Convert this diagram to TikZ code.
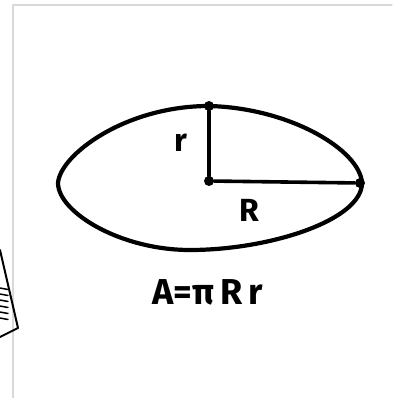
\documentclass[tikz,border=0pt]{standalone}
\usepackage{fontspec}
\setmainfont{Fira Sans}
\usetikzlibrary{positioning,calc}

\begin{document}
\begin{tikzpicture}[x=1pt,y=-1pt,line cap=round,line join=round,
   every node/.style={inner sep=0pt},
   pt/.style={circle,fill=black,minimum size=10pt},
   axis/.style={line width=3.6pt},
   lbl/.style={font=\fontsize{32}{32}\bfseries}]
  \useasboundingbox (0,0) rectangle (392,398);
  % frame of the page
  \draw[gray!30,line width=1.2pt] (13,400) -- (13,5) -- (392,5);
  % corner of the notebook at the left
  \draw[line width=2pt] (0,250) -- (18,328) -- (0,337);
  \foreach \y in {288,294,...,318}
    \draw[line width=1.5pt] (0,\y) -- (8,\y+1.5);
  % the ellipse
  \draw[line width=4.2pt] (209,106)
    .. controls (290,108) and (360,150) .. (362,183)
    .. controls (362,220) and (270,250) .. (190,250)
    .. controls (120,250) and (58,212) .. (58,183)
    .. controls (60,155) and (125,106) .. (209,106) -- cycle;
  \node[pt] (O) at (209,181) {};
  \node[pt] (T) at (209,106) {};
  \node[pt] (E) at (360,183) {};
  \path[axis]
   (O) edge (T)
   (O) edge (E);
  \node[lbl] (r) at (181,143) {r};
  \node[lbl] (R) at (249,210) {R};
  \node[font=\fontsize{36}{36}\bfseries] (area) at (208,292) {A=π\,R\,r};
\end{tikzpicture}
\end{document}
